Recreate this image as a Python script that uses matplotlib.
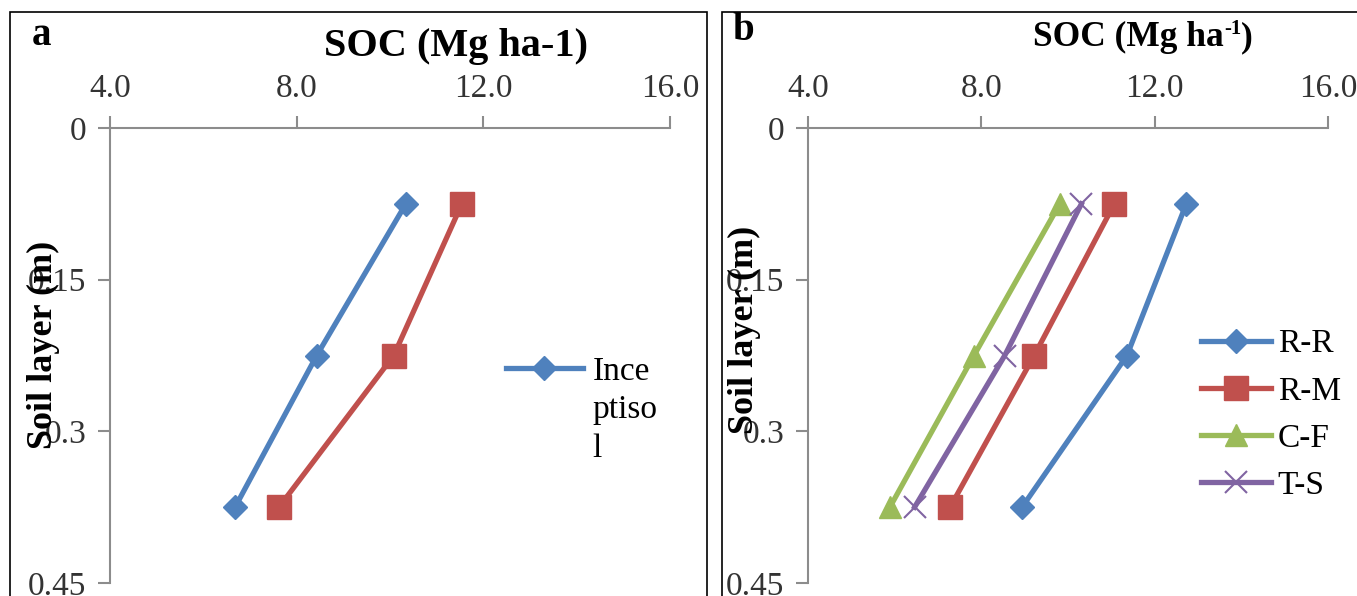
import matplotlib
matplotlib.use("Agg")
import matplotlib.pyplot as plt
from matplotlib.patches import Rectangle

plt.rcParams['font.family'] = ['Liberation Serif', 'DejaVu Serif']

# data
depth = [0.075, 0.225, 0.375]
soc_ticks = [4.0, 8.0, 12.0, 16.0]
depth_ticks = [0, 0.15, 0.3, 0.45]
depth_labels = ["0", "0.15", "0.3", "0.45"]

a_inceptisol = [10.34, 8.43, 6.68]
a_second = [11.54, 10.08, 7.62]

b_names = ["R-R", "R-M", "C-F", "T-S"]
b_rr = [12.73, 11.36, 8.94]
b_rm = [11.07, 9.22, 7.28]
b_cf = [9.81, 7.83, 5.89]
b_ts = [10.31, 8.54, 6.46]

BLUE = '#4F81BD'
RED = '#C0504D'
GREEN = '#9BBB59'
PURPLE = '#8064A2'
SPINE = '#8C8C8C'

W, H = 1357, 596
fig = plt.figure(figsize=(W / 100, H / 100), dpi=100)


def fx(x):
    return x / W


def fy(y):
    return 1 - y / H


def style_axis(ax):
    ax.set_xlim(4, 16)
    ax.set_ylim(0.45, 0)
    ax.xaxis.tick_top()
    ax.set_xticks(soc_ticks)
    ax.set_xticklabels(["%.1f" % t for t in soc_ticks])
    ax.set_yticks(depth_ticks)
    ax.set_yticklabels(depth_labels)
    for s in ['right', 'bottom']:
        ax.spines[s].set_visible(False)
    for s in ['left', 'top']:
        ax.spines[s].set_color(SPINE)
        ax.spines[s].set_linewidth(1.5)
    ax.tick_params(axis='x', direction='out', length=9, width=1.5, color=SPINE,
                   pad=8, labelsize=24, labelcolor='#333333')
    ax.tick_params(axis='y', direction='out', length=9, width=1.5, color=SPINE,
                   pad=8, labelsize=24, labelcolor='#333333')
    ax.set_facecolor('none')


# panel a
ax1 = fig.add_axes([fx(110), fy(583), fx(670) - fx(110), fy(128) - fy(583)])
style_axis(ax1)
l1, = ax1.plot(a_inceptisol, depth, color=BLUE, lw=3.8, marker='D', ms=12,
               mec=BLUE, mfc=BLUE, label="Ince\nptiso\nl", clip_on=False)
ax1.plot(a_second, depth, color=RED, lw=3.8, marker='s', ms=17,
         mec=RED, mfc=RED, clip_on=False)
leg1 = ax1.legend(handles=[l1], loc='upper left', bbox_to_anchor=(fx(506), fy(356)),
                  bbox_transform=fig.transFigure, frameon=False, fontsize=24,
                  handlelength=2.3, handletextpad=0.3, borderpad=0, borderaxespad=0)
leg1.get_texts()[0].set_linespacing(1.35)
# put the marker beside the first line of the wrapped label
for col in leg1._legend_handle_box.get_children():
    for row in col.get_children():
        row.align = 'top'

# panel b
ax2 = fig.add_axes([fx(808), fy(583), fx(1328) - fx(808), fy(128) - fy(583)])
style_axis(ax2)
hb = []
hb.append(ax2.plot(b_rr, depth, color=BLUE, lw=3.8, marker='D', ms=12,
                   mec=BLUE, mfc=BLUE, clip_on=False)[0])
hb.append(ax2.plot(b_rm, depth, color=RED, lw=3.8, marker='s', ms=17,
                   mec=RED, mfc=RED, clip_on=False)[0])
hb.append(ax2.plot(b_cf, depth, color=GREEN, lw=3.8, marker='^', ms=16,
                   mec=GREEN, mfc=GREEN, clip_on=False)[0])
hb.append(ax2.plot(b_ts, depth, color=PURPLE, lw=3.8, marker='x', ms=16,
                   mew=1.5, mec=PURPLE, clip_on=False)[0])
ax2.legend(handles=hb, labels=b_names, loc='upper left',
           bbox_to_anchor=(fx(1201), fy(329)), bbox_transform=fig.transFigure,
           frameon=False, fontsize=24, handlelength=2.1, handletextpad=0.2,
           labelspacing=0.5, borderpad=0, borderaxespad=0)

# y labels drawn over the tick labels, as in the original
fig.text(fx(43), fy(345), "Soil layer (m)", rotation=90, ha='center', va='center',
         fontsize=26, weight='bold', color='black')
fig.text(fx(744), fy(330), "Soil layer (m)", rotation=90, ha='center', va='center',
         fontsize=26, weight='bold', color='black')

# titles and panel letters
fig.text(fx(456), fy(56), "SOC (Mg ha-1)", ha='center', va='baseline',
         fontsize=29, weight='bold')

# panel b title with a small raised "-1"
renderer = fig.canvas.get_renderer()
tb = fig.text(0, fy(46), "SOC (Mg ha", ha='left', va='baseline',
              fontsize=25.5, weight='bold')
sup = fig.text(0, fy(58), "-1", ha='left', va='baseline', fontsize=15, weight='bold')
close = fig.text(0, fy(46), ")", ha='left', va='baseline', fontsize=25.5, weight='bold')
w_main = tb.get_window_extent(renderer).width
w_sup = sup.get_window_extent(renderer).width
w_close = close.get_window_extent(renderer).width
x0 = 1143 - (w_main + w_sup + w_close) / 2
tb.set_x(fx(x0))
sup.set_x(fx(x0 + w_main))
sup.set_y(fy(46) + 12 / H)
close.set_x(fx(x0 + w_main + w_sup))

fig.text(fx(32), fy(45), "a", ha='left', va='baseline', fontsize=28, weight='bold')
fig.text(fx(732), fy(40), "b", ha='left', va='baseline', fontsize=28, weight='bold')

# panel borders
fig.patches.append(Rectangle((fx(10), fy(620)), fx(707) - fx(10), fy(12) - fy(620),
                             transform=fig.transFigure, fill=False, ec='black', lw=1.2))
fig.patches.append(Rectangle((fx(722), fy(620)), fx(1380) - fx(722), fy(12) - fy(620),
                             transform=fig.transFigure, fill=False, ec='black', lw=1.2))

fig.savefig("out.png", dpi=100)
